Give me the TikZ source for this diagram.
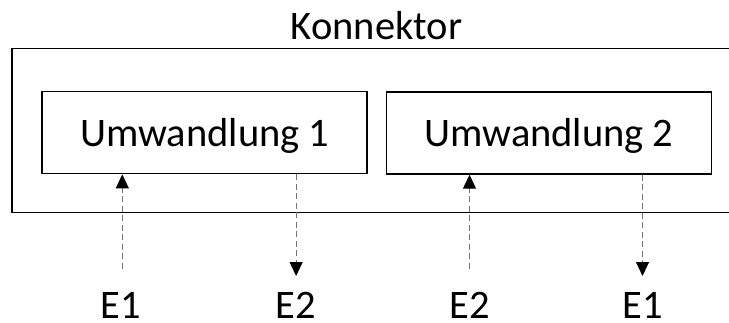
\documentclass[tikz,border=0pt]{standalone}
\usepackage{fontspec}
\setmainfont{Carlito}
\usetikzlibrary{arrows.meta}
\begin{document}
\begin{tikzpicture}[x=1pt,y=-1pt,
  boxstyle/.style={draw=black, line width=1.8pt, rectangle, minimum width=325pt, minimum height=82pt, inner sep=0pt, text height=28pt, text depth=0pt, font=\fontsize{40.5}{48}\selectfont},
  lbl/.style={anchor=base, inner sep=0pt, font=\fontsize{40.5}{48}\selectfont},
  flow/.style={draw=black!55, line width=1.2pt, dash pattern=on 6pt off 3.5pt, -{Triangle[width=13pt,length=14pt,color=black]}}]
\useasboundingbox (0,0) rectangle (729,322);
\clip (0,0) rectangle (729,322);
% outer connector box (right side runs past the edge)
\node[draw=black, line width=1.8pt, rectangle, minimum width=740pt, minimum height=164pt, inner sep=0pt] (konn) at (381.6,130.5) {};
\node[lbl] (konnlbl) at (376.6,39.6) {Konnektor};
\node[boxstyle] (u1) at (204.8,132.5) {Umwandlung 1};
\node[boxstyle] (u2) at (549,132.8) {Umwandlung 2};
% free ends of the connectors
\coordinate (a1) at (122.3,268.5);
\coordinate (b1) at (296.1,276);
\coordinate (a2) at (469.5,268.5);
\coordinate (b2) at (642.5,276);
\draw[flow] (a1) -- (a1 |- u1.south);
\draw[flow] (b1 |- u1.south) -- (b1);
\draw[flow] (a2) -- (a2 |- u2.south);
\draw[flow] (b2 |- u2.south) -- (b2);
\node[lbl] (e1a) at (121,318) {E1};
\node[lbl] (e2a) at (296.1,318) {E2};
\node[lbl] (e2b) at (469.5,318) {E2};
\node[lbl] (e1b) at (642.5,318) {E1};
\end{tikzpicture}
\end{document}
